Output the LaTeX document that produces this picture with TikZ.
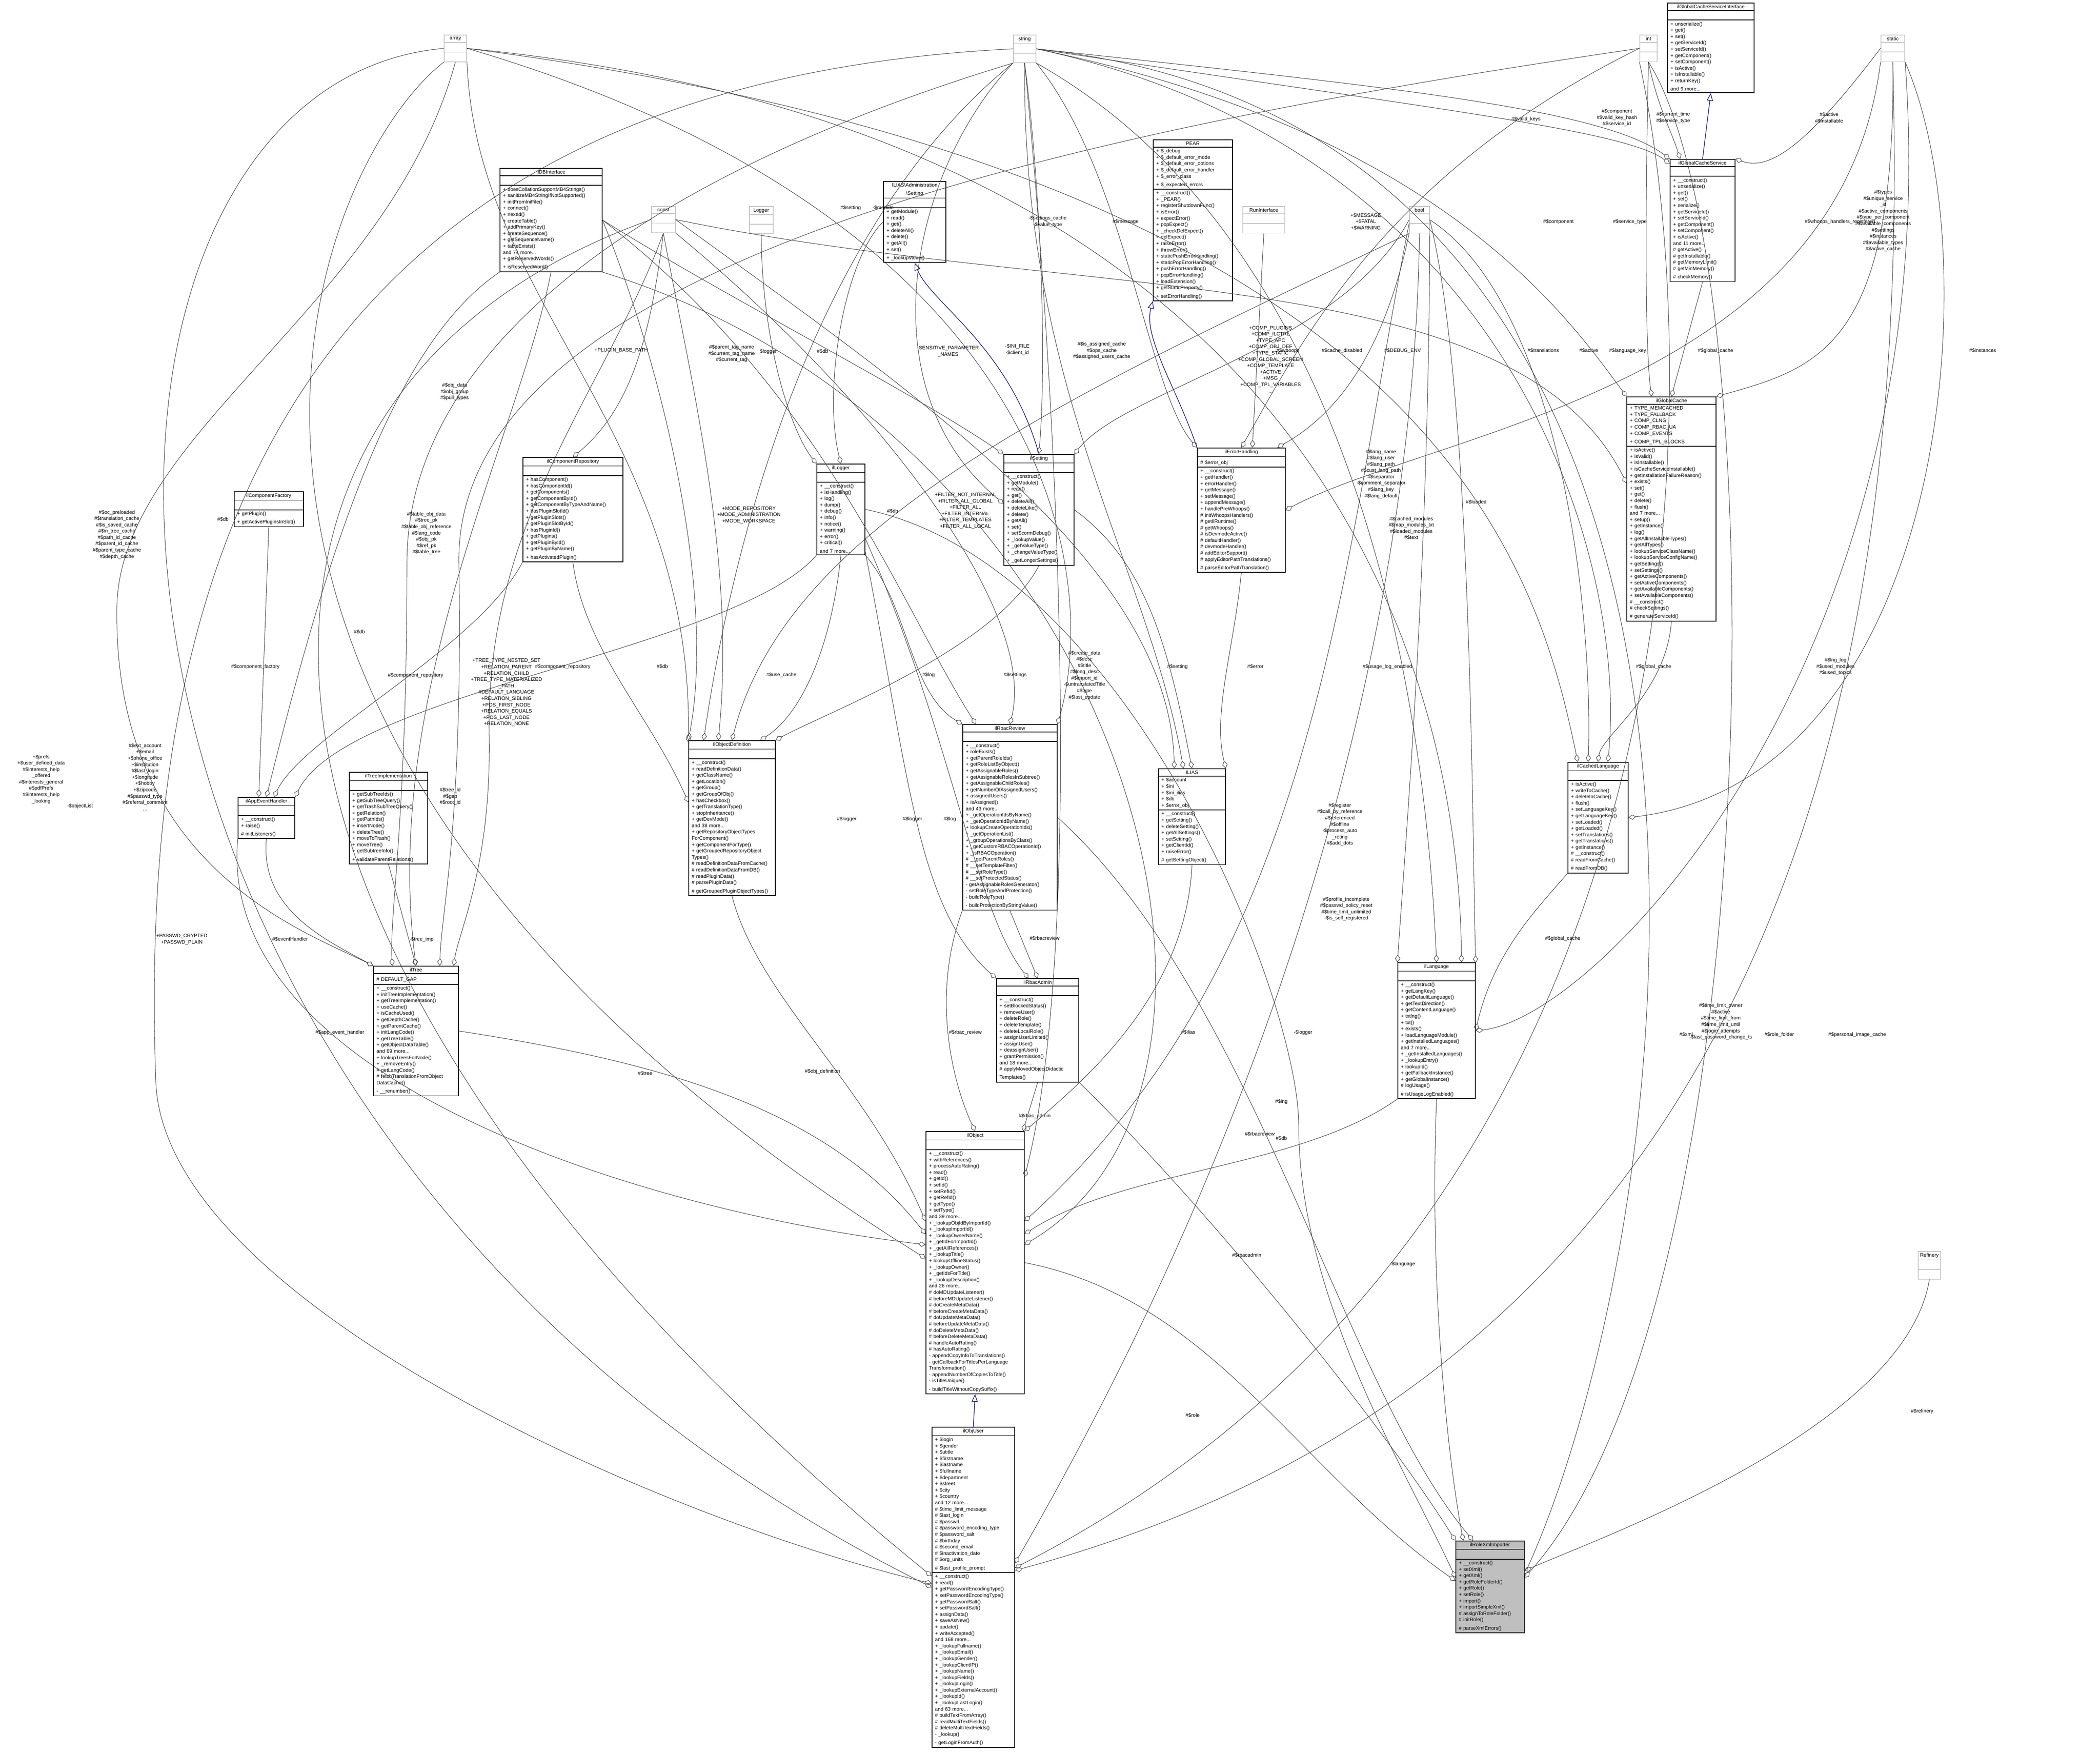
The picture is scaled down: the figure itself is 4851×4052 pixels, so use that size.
\documentclass[tikz,border=0pt]{standalone}
\usepackage{fontspec}
\setmainfont{Liberation Sans}
\usetikzlibrary{arrows.meta,shapes.multipart,positioning,calc}
\definecolor{edgegray}{HTML}{404040}
\definecolor{inhblue}{HTML}{191970}
\newcommand{\clsfont}{\fontsize{3.3pt}{4.15pt}\selectfont}
\tikzset{
  umlbox/.style={draw=black, line width=0.5pt, fill=white, rectangle split, rectangle split parts=3,
    anchor=north west, align=left, font=\clsfont, inner xsep=2pt, inner ysep=1pt},
  typebox/.style={umlbox, draw=gray!45},
  agg/.style={draw=edgegray, line width=0.3pt, -{Diamond[open,length=5pt,width=3.4pt]}},
  inh/.style={draw=inhblue, line width=0.4pt, -{Triangle[open,length=5pt,width=4pt]}},
  lbl/.style={font=\clsfont, align=center, inner sep=0pt}
}
% class box: name, x, y, width (px), title, attributes, methods
\newcommand{\umlclass}[8][umlbox]{%
  \pgfmathsetlengthmacro{\clsw}{#5*0.01cm-4pt}%
  \node[#1, text width=\clsw] (#2) at (#3,#4) {\makebox[\hsize]{#6}\nodepart{two}#7\rule{0pt}{3.8pt}\nodepart{three}#8\rule{0pt}{3.8pt}};}
\newcommand{\typeclass}[5]{\umlclass[typebox]{#1}{#2}{#3}{#4}{#5}{}{}}
\begin{document}
\catcode`\_=12
\begin{tikzpicture}[x=0.01cm, y=-0.01cm]
\useasboundingbox (0,0) rectangle (4851,4052);
% types
\typeclass{array}{1025}{80}{52}{array}
\typeclass{string}{2340}{80}{52}{string}
\typeclass{int}{3787}{80}{40}{int}
\typeclass{static}{4344}{80}{55}{static}
\typeclass{const}{1504}{476}{55}{const}
\typeclass{Logger}{1730}{476}{55}{Logger}
\typeclass{bool}{3255}{476}{46}{bool}
\typeclass{RunInterface}{2870}{476}{97}{RunInterface}
\typeclass{Refinery}{4430}{2890}{52}{Refinery}
% classes
\umlclass{ilGCSI}{3851}{6}{200}{ilGlobalCacheServiceInterface}{}{+ unserialize()\\+ get()\\+ set()\\+ getServiceId()\\+ setServiceId()\\+ getComponent()\\+ setComponent()\\+ isActive()\\+ isInstallable()\\+ returnKey()\\and 9 more...}
\umlclass{PEAR}{2663}{322}{183}{PEAR}{+ \$_debug\\+ \$_default_error_mode\\+ \$_default_error_options\\+ \$_default_error_handler\\+ \$_error_class\\+ \$_expected_errors}{+ __construct()\\+ _PEAR()\\+ registerShutdownFunc()\\+ isError()\\+ expectError()\\+ popExpect()\\+ _checkDelExpect()\\+ delExpect()\\+ raiseError()\\+ throwError()\\+ staticPushErrorHandling()\\+ staticPopErrorHandling()\\+ pushErrorHandling()\\+ popErrorHandling()\\+ loadExtension()\\+ getStaticProperty()\\+ setErrorHandling()}
\umlclass{iaSetting}{2040}{418}{144}{\shortstack{ILIAS\textbackslash Administration\\\textbackslash Setting}}{}{+ getModule()\\+ read()\\+ get()\\+ deleteAll()\\+ delete()\\+ getAll()\\+ set()\\+ _lookupValue()}
\umlclass{ilGCS}{3857}{367}{150}{ilGlobalCacheService}{}{+ __construct()\\+ unserialize()\\+ get()\\+ set()\\+ serialize()\\+ getServiceId()\\+ setServiceId()\\+ getComponent()\\+ setComponent()\\+ isActive()\\and 11 more...\\\# getActive()\\\# getInstallable()\\\# getMemoryLimit()\\\# getMinMemory()\\\# checkMemory()}
\umlclass{ilGlobalCache}{3757}{916}{206}{ilGlobalCache}{+ TYPE_MEMCACHED\\+ TYPE_FALLBACK\\+ COMP_CLNG\\+ COMP_RBAC_UA\\+ COMP_EVENTS\\+ COMP_TPL_BLOCKS}{+ isActive()\\+ isValid()\\+ isInstallable()\\+ isCacheServiceInstallable()\\+ getInstallationFailureReason()\\+ exists()\\+ set()\\+ get()\\+ delete()\\+ flush()\\and 7 more...\\+ setup()\\+ getInstance()\\+ log()\\+ getAllInstallableTypes()\\+ getAllTypes()\\+ lookupServiceClassName()\\+ lookupServiceConfigName()\\+ getSettings()\\+ setSettings()\\+ getActiveComponents()\\+ setActiveComponents()\\+ getAvailableComponents()\\+ setAvailableComponents()\\\# __construct()\\\# checkSettings()\\\# generateServiceId()}
\umlclass{ilDBInterface}{1154}{388}{236}{ilDBInterface}{}{+ doesCollationSupportMB4Strings()\\+ sanitizeMB4StringIfNotSupported()\\+ initFromIniFile()\\+ connect()\\+ nextId()\\+ createTable()\\+ addPrimaryKey()\\+ createSequence()\\+ getSequenceName()\\+ tableExists()\\and 74 more...\\+ getReservedWords()\\+ isReservedWord()}
\umlclass{ilComponentRepository}{1207}{1056}{231}{ilComponentRepository}{}{+ hasComponent()\\+ hasComponentId()\\+ getComponents()\\+ getComponentById()\\+ getComponentByTypeAndName()\\+ hasPluginSlotId()\\+ getPluginSlots()\\+ getPluginSlotById()\\+ hasPluginId()\\+ getPlugins()\\+ getPluginById()\\+ getPluginByName()\\+ hasActivatedPlugin()}
\umlclass{ilComponentFactory}{540}{1135}{160}{ilComponentFactory}{}{+ getPlugin()\\+ getActivePluginsInSlot()}
\umlclass{ilLogger}{1886}{1071}{111}{ilLogger}{}{+ __construct()\\+ isHandling()\\+ log()\\+ dump()\\+ debug()\\+ info()\\+ notice()\\+ warning()\\+ error()\\+ critical()\\and 7 more...}
\umlclass{ilSetting}{2318}{1049}{162}{ilSetting}{}{+ __construct()\\+ getModule()\\+ read()\\+ get()\\+ deleteAll()\\+ deleteLike()\\+ delete()\\+ getAll()\\+ set()\\+ setScormDebug()\\+ _lookupValue()\\+ _getValueType()\\+ _changeValueType()\\+ _getLongerSettings()}
\umlclass{ilErrorHandling}{2765}{1034}{203}{ilErrorHandling}{\# \$error_obj}{+ __construct()\\+ getHandler()\\+ errorHandler()\\+ getMessage()\\+ setMessage()\\+ appendMessage()\\+ handlePreWhoops()\\\# initWhoopsHandlers()\\\# getIlRuntime()\\\# getWhoops()\\\# isDevmodeActive()\\\# defaultHandler()\\\# devmodeHandler()\\\# addEditorSupport()\\\# applyEditorPathTranslations()\\\# parseEditorPathTranslation()}
\umlclass{ilRbacReview}{2223}{1673}{218}{ilRbacReview}{}{+ __construct()\\+ roleExists()\\+ getParentRoleIds()\\+ getRoleListByObject()\\+ getAssignableRoles()\\+ getAssignableRolesInSubtree()\\+ getAssignableChildRoles()\\+ getNumberOfAssignedUsers()\\+ assignedUsers()\\+ isAssigned()\\and 43 more...\\+ _getOperationIdsByName()\\+ _getOperationIdByName()\\+ lookupCreateOperationIds()\\+ _getOperationList()\\+ _groupOperationsByClass()\\+ _getCustomRBACOperationId()\\+ _isRBACOperation()\\\# __getParentRoles()\\\# __setTemplateFilter()\\\# __setRoleType()\\\# __setProtectedStatus()\\- getAssignableRolesGenerator()\\- setRoleTypeAndProtection()\\- buildRoleType()\\- buildProtectionByStringValue()}
\umlclass{ilRbacAdmin}{2301}{2260}{190}{ilRbacAdmin}{}{+ __construct()\\+ setBlockedStatus()\\+ removeUser()\\+ deleteRole()\\+ deleteTemplate()\\+ deleteLocalRole()\\+ assignUserLimited()\\+ assignUser()\\+ deassignUser()\\+ grantPermission()\\and 18 more...\\\# applyMovedObjectDidactic\\Templates()}
\umlclass{ilIAS}{2675}{1775}{155}{ILIAS}{+ \$account\\+ \$ini\\+ \$ini_ilias\\+ \$db\\+ \$error_obj}{+ __construct()\\+ getSetting()\\+ deleteSetting()\\+ getAllSettings()\\+ setSetting()\\+ getClientId()\\+ raiseError()\\\# getSettingObject()}
\umlclass{ilCachedLanguage}{3621}{1760}{139}{ilCachedLanguage}{}{+ isActive()\\+ writeToCache()\\+ deleteInCache()\\+ flush()\\+ setLanguageKey()\\+ getLanguageKey()\\+ setLoaded()\\+ getLoaded()\\+ setTranslations()\\+ getTranslations()\\+ getInstance()\\\# __construct()\\\# readFromCache()\\\# readFromDB()}
\umlclass{ilLanguage}{3228}{2223}{179}{ilLanguage}{}{+ __construct()\\+ getLangKey()\\+ getDefaultLanguage()\\+ getTextDirection()\\+ getContentLanguage()\\+ txtlng()\\+ txt()\\+ exists()\\+ loadLanguageModule()\\+ getInstalledLanguages()\\and 7 more...\\+ _getInstalledLanguages()\\+ _lookupEntry()\\+ lookupId()\\+ getFallbackInstance()\\+ getGlobalInstance()\\\# logUsage()\\\# isUsageLogEnabled()}
\umlclass{ilAppEventHandler}{549}{1841}{131}{ilAppEventHandler}{}{+ __construct()\\+ raise()\\\# initListeners()}
\umlclass{ilTreeImpl}{806}{1783}{181}{ilTreeImplementation}{}{+ getSubTreeIds()\\+ getSubTreeQuery()\\+ getTrashSubTreeQuery()\\+ getRelation()\\+ getPathIds()\\+ insertNode()\\+ deleteTree()\\+ moveToTrash()\\+ moveTree()\\+ getSubtreeInfo()\\+ validateParentRelations()}
\umlclass{ilTree}{862}{2231}{196}{ilTree}{\# DEFAULT_GAP}{+ __construct()\\+ initTreeImplementation()\\+ getTreeImplementation()\\+ useCache()\\+ isCacheUsed()\\+ getDepthCache()\\+ getParentCache()\\+ initLangCode()\\+ getTreeTable()\\+ getObjectDataTable()\\and 69 more...\\+ lookupTreesForNode()\\+ _removeEntry()\\\# getLangCode()\\\# fetchTranslationFromObject\\DataCache()\\- __renumber()}
\umlclass{ilObjectDefinition}{1590}{1710}{200}{ilObjectDefinition}{}{+ __construct()\\+ readDefinitionData()\\+ getClassName()\\+ getLocation()\\+ getGroup()\\+ getGroupOfObj()\\+ hasCheckbox()\\+ getTranslationType()\\+ stopInheritance()\\+ getDevMode()\\and 38 more...\\+ getRepositoryObjectTypes\\ForComponent()\\+ getComponentForType()\\+ getGroupedRepositoryObject\\Types()\\\# readDefinitionDataFromCache()\\\# readDefinitionDataFromDB()\\\# readPluginData()\\\# parsePluginData()\\\# getGroupedPluginObjectTypes()}
\umlclass{ilObject}{2138}{2613}{227}{ilObject}{}{+ __construct()\\+ withReferences()\\+ processAutoRating()\\+ read()\\+ getId()\\+ setId()\\+ setRefId()\\+ getRefId()\\+ getType()\\+ setType()\\and 39 more...\\+ _lookupObjIdByImportId()\\+ _lookupImportId()\\+ _lookupOwnerName()\\+ _getIdForImportId()\\+ _getAllReferences()\\+ _lookupTitle()\\+ lookupOfflineStatus()\\+ _lookupOwner()\\+ _getIdsForTitle()\\+ _lookupDescription()\\and 26 more...\\\# doMDUpdateListener()\\\# beforeMDUpdateListener()\\\# doCreateMetaData()\\\# beforeCreateMetaData()\\\# doUpdateMetaData()\\\# beforeUpdateMetaData()\\\# doDeleteMetaData()\\\# beforeDeleteMetaData()\\\# handleAutoRating()\\\# hasAutoRating()\\- appendCopyInfoToTranslations()\\- getCallbackForTitlesPerLanguage\\Transformation()\\- appendNumberOfCopiesToTitle()\\- isTitleUnique()\\- buildTitleWithoutCopySuffix()}
\umlclass{ilObjUser}{2152}{3296}{191}{ilObjUser}{+ \$login\\+ \$gender\\+ \$utitle\\+ \$firstname\\+ \$lastname\\+ \$fullname\\+ \$department\\+ \$street\\+ \$city\\+ \$country\\and 12 more...\\\# \$time_limit_message\\\# \$last_login\\\# \$passwd\\\# \$password_encoding_type\\\# \$password_salt\\\# \$birthday\\\# \$second_email\\\# \$inactivation_date\\\# \$org_units\\\# \$last_profile_prompt}{+ __construct()\\+ read()\\+ getPasswordEncodingType()\\+ setPasswordEncodingType()\\+ getPasswordSalt()\\+ setPasswordSalt()\\+ assignData()\\+ saveAsNew()\\+ update()\\+ writeAccepted()\\and 168 more...\\+ _lookupFullname()\\+ _lookupEmail()\\+ _lookupGender()\\+ _lookupClientIP()\\+ _lookupName()\\+ _lookupFields()\\+ _lookupLogin()\\+ _lookupExternalAccount()\\+ _lookupId()\\+ _lookupLastLogin()\\and 63 more...\\\# buildTextFromArray()\\\# readMultiTextFields()\\\# deleteMultiTextFields()\\- _lookup()\\- getLoginFromAuth()}
\umlclass[umlbox,fill=gray!50]{ilRoleXmlImporter}{3362}{3559}{158}{ilRoleXmlImporter}{}{+ __construct()\\+ setXml()\\+ getXml()\\+ getRoleFolderId()\\+ getRole()\\+ setRole()\\+ import()\\+ importSimpleXml()\\\# assignToRoleFolder()\\\# initRole()\\\# parseXmlErrors()}
% inheritance
\draw[inh] (ilObjUser.north) -- (ilObject.south);
\draw[inh] (ilErrorHandling.north west) .. controls (2720,900) and (2640,780) .. (PEAR.south west);
\draw[inh] (ilSetting.north) .. controls (2330,800) and (2150,700) .. (iaSetting.south);
\draw[inh] (ilGCS.north) -- (ilGCSI.south);
% members, left side
\draw[agg] (array.west) .. controls (40,200) and (10,2600) .. (ilObjUser.west);
\node[lbl] (lprefs) at (95,1800) {+\$prefs\\+\$user_defined_data\\\#\$interests_help\\_offered\\\#\$interests_general\\\#\$pdfPrefs\\\#\$interests_help\\_looking};
\draw[agg] (string.west) .. controls (600,200) and (320,1400) .. (360,2500) .. controls (380,3000) and (1500,3500) .. (ilObjUser.175);
\node[lbl] (luser) at (335,1795) {\#\$ext_account\\+\$email\\+\$phone_office\\+\$institution\\\#\$last_login\\+\$longitude\\+\$hobby\\+\$zipcode\\\#\$passwd_type\\\#\$referral_comment\\...};
\draw[agg] (array.south west) .. controls (700,400) and (200,1700) .. (ilObject.175);
\node[lbl] (lobjlist) at (185,1862) {-\$objectList};
\draw[agg] (array.south) .. controls (900,700) and (280,1000) .. (270,1400) .. controls (260,2000) and (700,2150) .. (ilTree.north west);
\node[lbl] (lcache) at (270,1235) {\#\$oc_preloaded\\\#\$translation_cache\\\#\$is_saved_cache\\\#\$in_tree_cache\\\#\$path_id_cache\\\#\$parent_id_cache\\\#\$parent_type_cache\\\#\$depth_cache};
\draw[agg] (string.south west) .. controls (1500,400) and (940,800) .. (940,1300) .. controls (940,1900) and (900,2100) .. (ilTree.110);
\node[lbl] (ltable) at (985,1232) {\#\$table_obj_data\\\#\$tree_pk\\\#\$table_obj_reference\\\#\$lang_code\\\#\$obj_pk\\\#\$ref_pk\\\#\$table_tree};
\draw[agg] (int.west) .. controls (2500,300) and (1050,600) .. (1060,1300) .. controls (1070,1900) and (1020,2100) .. (ilTree.70);
\node[lbl] (ltreeid) at (1040,1840) {\#\$tree_id\\\#\$gap\\\#\$root_id};
\draw[agg] (const.south) .. controls (1400,900) and (1120,1200) .. (1130,1700) .. controls (1135,2000) and (1060,2150) .. (ilTree.60);
\node[lbl] (ltreeconst) at (1170,1600) {+TREE_TYPE_NESTED_SET\\+RELATION_PARENT\\+RELATION_CHILD\\+TREE_TYPE_MATERIALIZED\\_PATH\\\#DEFAULT_LANGUAGE\\+RELATION_SIBLING\\+POS_FIRST_NODE\\+RELATION_EQUALS\\+POS_LAST_NODE\\+RELATION_NONE};
\draw[agg] (ilDBInterface.south west) .. controls (900,800) and (750,1300) .. (ilAppEventHandler.north);
\node[lbl] (ldb1) at (515,1200) {\#\$db};
\draw[agg] (ilDBInterface.south) .. controls (1200,1000) and (880,1600) .. (ilTree.north);
\node[lbl] (ldb2) at (830,1460) {\#\$db};
\draw[agg] (ilComponentFactory.south) -- (ilAppEventHandler.110);
\node[lbl] (lcf) at (590,1540) {\#\$component_factory};
\draw[agg] (ilComponentRepository.south west) .. controls (1100,1500) and (700,1700) .. (ilAppEventHandler.70);
\node[lbl] (lcr1) at (960,1560) {\#\$component_repository};
\draw[agg] (ilLogger.south west) .. controls (1700,1500) and (800,1600) .. (ilAppEventHandler.north east);
\draw[agg] (ilAppEventHandler.south) .. controls (600,2100) and (750,2170) .. (ilTree.north west);
\node[lbl] (leh) at (670,2170) {\#\$eventHandler};
\draw[agg] (ilAppEventHandler.south west) .. controls (500,2500) and (1500,2800) .. (ilObject.160);
\node[lbl] (laeh) at (785,2385) {\#\$app_event_handler};
\draw[agg] (ilTreeImpl.south) -- (ilTree.north);
\node[lbl] (ltimpl) at (975,2170) {-\$tree_impl};
\draw[agg] (const.west) .. controls (400,900) and (380,2200) .. (ilObjUser.165);
\node[lbl] (lpasswd) at (420,2170) {+PASSWD_CRYPTED\\+PASSWD_PLAIN};
\draw[agg] (ilTree.east) .. controls (1500,2450) and (1900,2550) .. (ilObject.150);
\node[lbl] (ltree) at (1490,2480) {\#\$tree};
\draw[agg] (ilObjectDefinition.south) .. controls (1750,2300) and (2000,2500) .. (ilObject.140);
\node[lbl] (lobjdef) at (1900,2475) {\#\$obj_definition};
% middle
\draw[agg] (ilDBInterface.east) .. controls (1550,900) and (1650,1400) .. (ilObjectDefinition.north west);
\node[lbl] (ldb3) at (1530,1540) {\#\$db};
\draw[agg] (ilComponentRepository.south) .. controls (1350,1500) and (1500,1650) .. (ilObjectDefinition.160);
\node[lbl] (lcr2) at (1300,1540) {\#\$component_repository};
\draw[agg] (bool.south west) .. controls (2500,900) and (1820,1200) .. (ilObjectDefinition.north);
\node[lbl] (lusecache) at (1805,1559) {\#\$use_cache};
\draw[agg] (ilLogger.south) .. controls (1920,1500) and (1850,1650) .. (ilObjectDefinition.70);
\node[lbl] (llogger1) at (1956,1892) {\#\$logger};
\draw[agg] (ilSetting.south) .. controls (2300,1500) and (1900,1650) .. (ilObjectDefinition.north east);
\node[lbl] (lsettings) at (2345,1559) {\#\$settings};
\draw[agg] (ilLogger.south east) .. controls (2100,1400) and (2100,1600) .. (ilRbacReview.north west);
\node[lbl] (llog1) at (2145,1559) {\#\$log};
\draw[agg] (ilLogger.300) .. controls (2100,1800) and (2120,2100) .. (ilRbacAdmin.north west);
\node[lbl] (llogger2) at (2108,1892) {\#\$logger};
\draw[agg] (ilLogger.310) .. controls (2200,1700) and (2250,2100) .. (ilRbacAdmin.100);
\node[lbl] (llog2) at (2194,1892) {\#\$log};
\draw[agg] (ilRbacReview.south) -- (ilRbacAdmin.north);
\node[lbl] (lrr1) at (2413,2168) {\#\$rbacreview};
\draw[agg] (ilRbacReview.south west) .. controls (2150,2300) and (2200,2500) .. (ilObject.north);
\node[lbl] (lrr2) at (2230,2385) {\#\$rbac_review};
\draw[agg] (ilRbacAdmin.south) -- (ilObject.70);
\node[lbl] (lra1) at (2390,2578) {\#\$rbac_admin};
\draw[agg] (ilRbacAdmin.south east) .. controls (2800,2800) and (3200,3300) .. (ilRoleXmlImporter.north west);
\node[lbl] (lra2) at (2880,2900) {\#\$rbacadmin};
\draw[agg] (ilRbacReview.east) .. controls (2900,2300) and (3100,3200) .. (ilRoleXmlImporter.110);
\node[lbl] (lrr3) at (2910,2620) {\#\$rbacreview};
\draw[agg] (ilIAS.south) .. controls (2740,2300) and (2500,2500) .. (ilObject.north east);
\node[lbl] (lilias) at (2745,2385) {\#\$ilias};
\draw[agg] (ilLanguage.south west) .. controls (3000,2700) and (2600,2700) .. (ilObject.30);
\node[lbl] (llng) at (2960,2545) {\#\$lng};
\draw[agg] (ilDBInterface.south east) .. controls (2600,1000) and (3000,2500) .. (ilObject.20);
\node[lbl] (ldb4) at (2960,2630) {\#\$db};
\draw[agg] (ilLanguage.south) .. controls (3300,3000) and (3350,3400) .. (ilRoleXmlImporter.120);
\node[lbl] (llang) at (3240,2920) {-\$language};
\draw[agg] (ilObject.east) .. controls (2800,3000) and (3000,3400) .. (ilRoleXmlImporter.170);
\node[lbl] (lrole) at (2755,3270) {\#\$role};
\draw[agg] (ilLogger.east) .. controls (2600,1300) and (3000,2300) .. (3000,2600) .. controls (3000,3000) and (3250,3400) .. (ilRoleXmlImporter.165);
\node[lbl] (llogger3) at (3010,2385) {-\$logger};
\draw[agg] (Refinery.south) .. controls (4400,3300) and (3700,3550) .. (ilRoleXmlImporter.25);
\node[lbl] (lrefinery) at (4440,3260) {\#\$refinery};
\draw[agg] (string.east) .. controls (4200,300) and (3900,2800) .. (ilRoleXmlImporter.20);
\node[lbl] (lxml) at (3895,2390) {\#\$xml};
\draw[agg] (int.south) .. controls (4100,600) and (4100,3000) .. (ilRoleXmlImporter.15);
\node[lbl] (lrf) at (4110,2390) {\#\$role_folder};
\draw[agg] (int.south west) .. controls (3950,900) and (3950,2800) .. (ilObjUser.25);
\node[lbl] (ltimelimit) at (3975,2360) {\#\$time_limit_owner\\\#\$active\\\#\$time_limit_from\\\#\$time_limit_until\\\#\$login_attempts\\-\$last_password_change_ts};
\draw[agg] (static.south) .. controls (4400,1200) and (4300,3100) .. (ilObjUser.22);
\node[lbl] (lpic) at (4290,2390) {\#\$personal_image_cache};
\draw[agg] (bool.south) .. controls (3270,1200) and (3100,2300) .. (ilObjUser.30);
\node[lbl] (lprofile) at (3110,2100) {\#\$profile_incomplete\\\#\$passwd_policy_reset\\\#\$time_limit_unlimited\\-\$is_self_registered};
\draw[agg] (bool.200) .. controls (3100,1300) and (3050,2200) .. (ilObject.40);
\node[lbl] (lregister) at (3095,1905) {\#\$register\\\#\$call_by_reference\\\#\$referenced\\\#\$offline\\-\$process_auto\\_reting\\\#\$add_dots};
\draw[agg] (string.south) .. controls (2450,1000) and (2500,2200) .. (ilObject.60);
\node[lbl] (lcreate) at (2505,1560) {\#\$create_data\\\#\$desc\\\#\$title\\\#\$long_desc\\\#\$import_id\\-\$untranslatedTitle\\\#\$type\\\#\$last_update};
\draw[agg] (ilSetting.east) .. controls (2650,1300) and (2700,1500) .. (ilIAS.north);
\node[lbl] (lsetting) at (2720,1540) {\#\$setting};
\draw[agg] (ilErrorHandling.south) .. controls (2850,1500) and (2800,1650) .. (ilIAS.north east);
\node[lbl] (lerror) at (2900,1540) {\#\$error};
% language / cache
\draw[agg] (ilCachedLanguage.south west) .. controls (3550,2100) and (3450,2200) .. (ilLanguage.east);
\node[lbl] (lgc1) at (3610,2168) {\#\$global_cache};
\draw[agg] (bool.south east) .. controls (3300,1300) and (3250,1900) .. (ilLanguage.north west);
\node[lbl] (lusage) at (3205,1540) {\#\$usage_log_enabled};
\draw[agg] (string.south east) .. controls (3200,600) and (3300,1800) .. (ilLanguage.north);
\node[lbl] (llangname) at (3190,1095) {\#\$lang_name\\\#\$lang_user\\\#\$lang_path\\\#\$cust_lang_path\\\#\$separator\\-\$comment_separator\\\#\$lang_key\\\#\$lang_default};
\draw[agg] (array.east) .. controls (3000,300) and (3370,1500) .. (ilLanguage.70);
\node[lbl] (lcached) at (3260,1220) {\#\$cached_modules\\\#\$map_modules_txt\\\#\$loaded_modules\\\#\$text};
\draw[agg] (bool.east) .. controls (3400,900) and (3400,1900) .. (ilLanguage.60);
\node[lbl] (lloaded) at (3410,1160) {\#\$loaded};
\draw[agg] (static.south east) .. controls (4500,1500) and (3700,2350) .. (ilLanguage.0);
\node[lbl] (llnglog) at (4240,1540) {\#\$lng_log\\\#\$used_modules\\\#\$used_topics};
\draw[agg] (ilGlobalCache.south) .. controls (3850,1600) and (3700,1700) .. (ilCachedLanguage.north);
\node[lbl] (lgc2) at (3820,1540) {\#\$global_cache};
\draw[agg] (array.east) .. controls (3300,400) and (3550,1300) .. (ilCachedLanguage.110);
\node[lbl] (ltransl) at (3565,810) {\#\$translations};
\draw[agg] (bool.east) .. controls (3600,700) and (3680,1400) .. (ilCachedLanguage.100);
\node[lbl] (lactive) at (3670,810) {\#\$active};
\draw[agg] (string.east) .. controls (3500,350) and (3760,1300) .. (ilCachedLanguage.80);
\node[lbl] (llangkey) at (3760,810) {\#\$language_key};
\draw[agg] (static.south east) .. controls (4600,600) and (4500,1800) .. (ilCachedLanguage.east);
\node[lbl] (linst) at (4580,810) {\#\$instances};
% global cache
\draw[agg] (ilGCS.south) -- (ilGlobalCache.north);
\node[lbl] (lgc3) at (3963,810) {\#\$global_cache};
\draw[agg] (static.south) .. controls (4380,800) and (4200,850) .. (ilGlobalCache.north east);
\node[lbl] (ltypes) at (4350,510) {\#\$types\\\#\$unique_service\\_id\\\#\$active_components\\\#\$type_per_component\\\#\$available_components\\\#\$settings\\\#\$instances\\\#\$available_types\\\#\$active_cache};
\draw[agg] (string.east) .. controls (3300,300) and (3600,700) .. (ilGlobalCache.north west);
\node[lbl] (lcomp) at (3600,512) {\#\$component};
\draw[agg] (int.south) .. controls (3800,500) and (3800,800) .. (ilGlobalCache.100);
\node[lbl] (lstype) at (3765,512) {\#\$service_type};
\draw[agg] (static.west) .. controls (4200,300) and (4100,400) .. (ilGCS.north east);
\node[lbl] (linstall) at (4225,272) {\#\$active\\\#\$installable};
\draw[agg] (string.east) .. controls (3200,200) and (3700,250) .. (ilGCS.north west);
\node[lbl] (lvalid) at (3525,275) {\#\$valid_keys};
\draw[agg] (int.south) .. controls (3830,250) and (3860,300) .. (ilGCS.110);
\node[lbl] (lcurtime) at (3865,272) {\#\$current_time\\\#\$service_type};
\draw[agg] (string.east) .. controls (3300,250) and (3750,300) .. (ilGCS.120);
\node[lbl] (lcomp2) at (3735,272) {\#\$component\\\#\$valid_key_hash\\\#\$service_id};
\draw[agg] (const.east) .. controls (2500,700) and (3500,600) .. (ilGlobalCache.150);
\node[lbl] (lcompplug) at (2935,830) {+COMP_PLUGINS\\+COMP_ILCTRL\\+TYPE_APC\\+COMP_OBJ_DEF\\+TYPE_STATIC\\+COMP_GLOBAL_SCREEN\\+COMP_TEMPLATE\\+ACTIVE\\+MSG\\+COMP_TPL_VARIABLES\\...};
% error handling / setting
\draw[agg] (string.south east) .. controls (2600,400) and (2650,900) .. (ilErrorHandling.north west);
\node[lbl] (lmsg) at (2600,512) {\#\$message};
\draw[agg] (int.west) .. controls (3200,400) and (3000,800) .. (ilErrorHandling.north);
\node[lbl] (lfatal) at (3155,512) {+\$MESSAGE\\+\$FATAL\\+\$WARNING};
\draw[agg] (RunInterface.south) -- (ilErrorHandling.80);
\node[lbl] (lwhoops) at (2975,810) {\#\$whoops};
\draw[agg] (bool.south west) .. controls (3200,800) and (3100,950) .. (ilErrorHandling.60);
\node[lbl] (ldebug) at (3240,810) {\#\$DEBUG_ENV};
\draw[agg] (static.south west) .. controls (4250,900) and (3300,1000) .. (ilErrorHandling.east);
\node[lbl] (lwhreg) at (4250,512) {\#\$whoops_handlers_registered};
\draw[agg] (string.south) .. controls (2400,400) and (2420,800) .. (ilSetting.north);
\node[lbl] (lscache) at (2420,512) {-\$settings_cache\\-\$value_type};
\draw[agg] (bool.west) .. controls (3100,800) and (2600,900) .. (ilSetting.north east);
\node[lbl] (lcdis) at (3100,810) {\#\$cache_disabled};
\draw[agg] (ilDBInterface.east) .. controls (1700,700) and (2100,900) .. (ilSetting.north west);
\node[lbl] (ldb5) at (1900,812) {\#\$db};
\draw[agg] (string.south west) .. controls (2100,400) and (2000,900) .. (ilSetting.170);
\node[lbl] (lmodule) at (2040,480) {-\$module};
\draw[agg] (Logger.south) .. controls (1760,800) and (1830,1000) .. (ilLogger.north west);
\node[lbl] (llogger4) at (1775,812) {\$logger};
\draw[agg] (string.south west) .. controls (1900,500) and (1700,1200) .. (ilObjectDefinition.110);
\node[lbl] (lptag) at (1690,817) {\#\$parent_tag_name\\\#\$current_tag_name\\\#\$current_tag};
\draw[agg] (const.south) .. controls (1600,900) and (1700,1300) .. (ilObjectDefinition.100);
\node[lbl] (lmode) at (1730,1190) {+MODE_REPOSITORY\\+MODE_ADMINISTRATION\\+MODE_WORKSPACE};
\draw[agg] (array.south east) .. controls (1100,700) and (1600,1000) .. (ilObjectDefinition.120);
\node[lbl] (lobjdata) at (1050,905) {\#\$obj_data\\\#\$obj_group\\\#\$pull_types};
\draw[agg] (const.south) .. controls (1500,800) and (1450,950) .. (ilComponentRepository.north);
\node[lbl] (lpbp) at (1435,810) {+PLUGIN_BASE_PATH};
\draw[agg] (const.south east) .. controls (2000,900) and (2400,1400) .. (ilRbacReview.north);
\node[lbl] (lfilter) at (2230,1180) {+FILTER_NOT_INTERNAL\\+FILTER_ALL_GLOBAL\\+FILTER_ALL\\+FILTER_INTERNAL\\+FILTER_TEMPLATES\\+FILTER_ALL_LOCAL};
\draw[agg] (ilDBInterface.east) .. controls (1900,900) and (2080,1400) .. (ilRbacReview.110);
\node[lbl] (ldb6) at (2062,1181) {\#\$db};
\draw[agg] (array.east) .. controls (2400,500) and (2550,1300) .. (ilRbacReview.north east);
\node[lbl] (lassigned) at (2545,810) {\#\$is_assigned_cache\\\#\$ops_cache\\\#\$assigned_users_cache};
\draw[agg] (const.east) .. controls (2100,900) and (2700,1300) .. (ilIAS.110);
\node[lbl] (lsens) at (2190,812) {-SENSITIVE_PARAMETER\\_NAMES};
\draw[agg] (string.south) .. controls (2360,900) and (2650,1300) .. (ilIAS.100);
\node[lbl] (lini) at (2350,808) {-\$INI_FILE\\-\$client_id};
\draw[agg] (iaSetting.west) .. controls (1950,600) and (1900,900) .. (ilLogger.north);
\node[lbl] (lsetting2) at (1965,480) {\#\$setting};
\end{tikzpicture}
\end{document}
